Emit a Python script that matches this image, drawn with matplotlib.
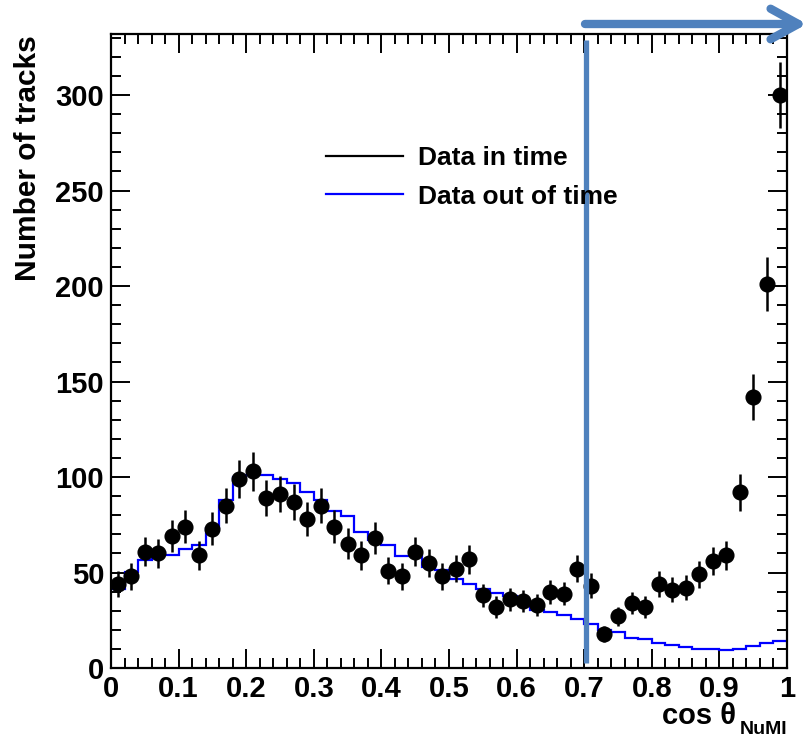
import numpy as np
import matplotlib
matplotlib.use('Agg')
import matplotlib.pyplot as plt
from matplotlib.ticker import MultipleLocator, FuncFormatter
from matplotlib.lines import Line2D

# cos(theta_NuMI) binning: 50 bins between 0 and 1
bin_lo = 0.0
bin_hi = 1.0
n_bins = 50

# tracks in time with the spill, one entry per bin
n_in_time = [44, 48, 61, 60, 69, 74, 59, 73, 85, 99,
             103, 89, 91, 87, 78, 85, 74, 65, 59, 68,
             51, 48, 61, 55, 48, 52, 57, 38, 32, 36,
             35, 33, 40, 39, 52, 43, 18, 27, 34, 32,
             44, 41, 42, 49, 56, 59, 92, 142, 201, 300]

# tracks out of time (normalised), one entry per bin
n_out_time = [41.4, 50.2, 56.3, 61.0, 59.3, 62.2, 64.2, 73.3, 87.8, 99.8,
              101.2, 100.9, 99.0, 96.9, 92.0, 87.8, 82.0, 79.8, 71.2, 67.1,
              64.5, 58.9, 58.4, 53.1, 51.4, 46.7, 44.0, 41.3, 39.2, 37.8,
              34.8, 30.4, 29.5, 27.8, 25.5, 23.1, 19.9, 19.1, 15.9, 15.0,
              12.9, 12.1, 10.8, 10.0, 10.0, 9.2, 10.0, 11.7, 12.9, 14.1]

cut_value = 0.703
legend_labels = ["Data in time", "Data out of time"]

plt.rcParams['font.family'] = ['Liberation Sans', 'DejaVu Sans']
plt.rcParams['font.weight'] = 'bold'

W, H = 804, 738
fig = plt.figure(figsize=(W / 100, H / 100), dpi=100)
ax = fig.add_axes([111 / W, 1 - 668 / H, 676 / W, 634 / H])

edges = np.linspace(bin_lo, bin_hi, n_bins + 1)
centres = 0.5 * (edges[:-1] + edges[1:])
half_width = 0.5 * (bin_hi - bin_lo) / n_bins
counts = np.array(n_in_time, dtype=float)

ax.stairs(n_out_time, edges, baseline=None, color='#0000ff', lw=1.6, zorder=2)
ax.errorbar(centres, counts, yerr=np.sqrt(counts), xerr=half_width,
            fmt='o', color='black', ms=10.6, elinewidth=1.8, capsize=0, zorder=3)

# cut line
ax.plot([cut_value, cut_value], [2.6, 329], color='#4f81bd', lw=3.8,
        solid_capstyle='butt', clip_on=False, zorder=4)

ax.set_xlim(bin_lo, bin_hi)
ax.set_ylim(0, 332)
ax.xaxis.set_major_locator(MultipleLocator(0.1))
ax.xaxis.set_minor_locator(MultipleLocator(0.02))
ax.yaxis.set_major_locator(MultipleLocator(50))
ax.yaxis.set_minor_locator(MultipleLocator(10))
ax.xaxis.set_major_formatter(FuncFormatter(lambda v, p: '%g' % round(v, 2)))
ax.tick_params(which='both', direction='in', top=True, right=True, width=1.4,
               labelsize=21, colors='black')
ax.tick_params(which='major', length=14)
ax.tick_params(which='minor', length=7)
ax.tick_params(axis='x', pad=5)
ax.tick_params(axis='y', pad=5)
for s in ax.spines.values():
    s.set_linewidth(1.6)

fig.text(28 / W, 1 - 35 / H, "Number of tracks", rotation=90, ha='center',
         va='top', fontsize=21.5, fontweight='bold')
fig.text(736 / W, 1 - 724 / H, "cos \u03b8", ha='right', va='baseline',
         fontsize=21, fontweight='bold')
fig.text(787 / W, 1 - 734 / H, "NuMI", ha='right', va='baseline',
         fontsize=14, fontweight='bold')

handles = [Line2D([], [], color='black', lw=1.6),
           Line2D([], [], color='#0000ff', lw=1.6)]
ax.legend(handles, legend_labels, loc='upper left', frameon=False,
          bbox_to_anchor=(326 / W, 1 - 146 / H), bbox_transform=fig.transFigure,
          borderpad=0, borderaxespad=0, handlelength=2.9, handletextpad=0.6,
          labelspacing=0.55, prop={'weight': 'bold', 'size': 19})

# arrow along the top edge
ax.annotate('', xy=(807, H - 24), xytext=(585, H - 24), xycoords='figure pixels',
            textcoords='figure pixels',
            arrowprops=dict(arrowstyle='->,head_length=2.0,head_width=1.1',
                            lw=6, color='#4f81bd', shrinkA=0, shrinkB=0,
                            capstyle='round', joinstyle='round'))

fig.savefig('out.png', dpi=100)
